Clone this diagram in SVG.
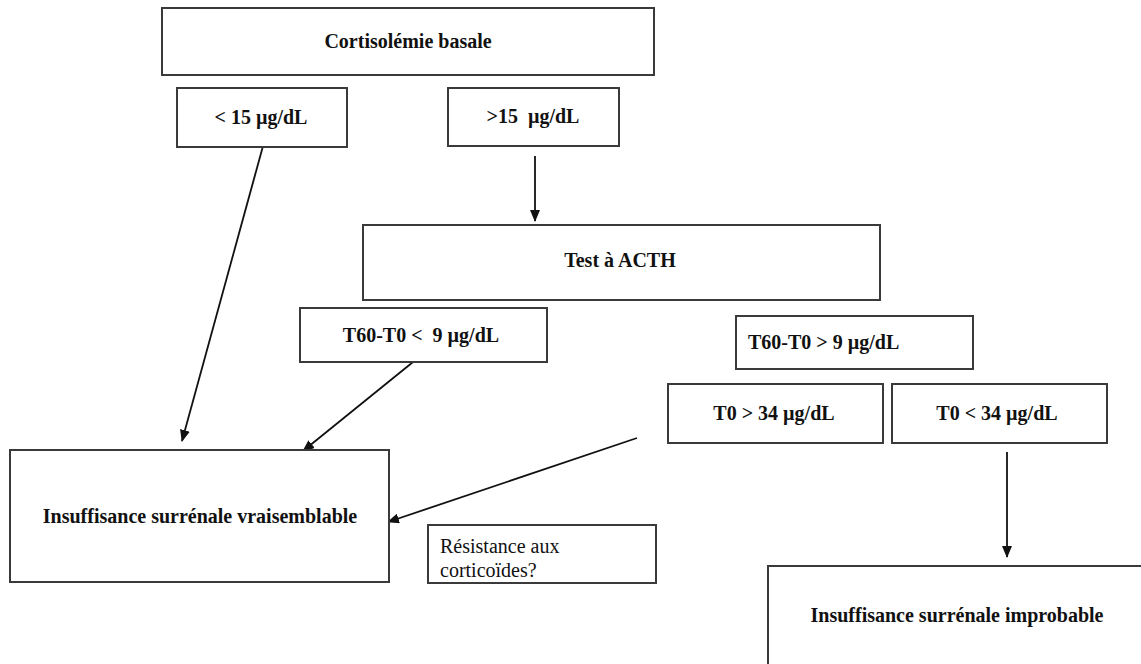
<svg xmlns="http://www.w3.org/2000/svg" width="1141" height="664" viewBox="0 0 1141 664">
<style>
.box{fill:#fff;stroke:#3a3a3a;stroke-width:2}
.t{font-family:"Liberation Serif","Times New Roman",serif;font-size:20px;font-weight:bold;fill:#111;text-anchor:middle}
.r{font-family:"Liberation Serif","Times New Roman",serif;font-size:20px;fill:#111}
.c{stroke:#111;stroke-width:1.8;fill:none;marker-end:url(#ah)}
</style>
<defs>
<marker id="ah" markerUnits="userSpaceOnUse" markerWidth="12" markerHeight="10" refX="11" refY="5" orient="auto">
<path d="M0,0 L12,5 L0,10 Z" fill="#111"/>
</marker>
</defs>
<rect width="1141" height="664" fill="#fff"/>
<g id="connectors">
<line class="c" x1="263" y1="146" x2="182" y2="441"/>
<line class="c" x1="535" y1="156" x2="535" y2="221"/>
<line class="c" x1="413" y1="362" x2="303" y2="451"/>
<line class="c" x1="637" y1="438" x2="388" y2="522"/>
<line class="c" x1="1007" y1="452" x2="1007" y2="557"/>
</g>
<g id="n-basale"><rect class="box" x="162" y="8" width="492" height="67"/><text class="t" x="408" y="48">Cortisolémie basale</text></g>
<g id="n-lt15"><rect class="box" x="177" y="88" width="170" height="59"/><text class="t" x="261" y="124" xml:space="preserve">&lt; 15 µg/dL</text></g>
<g id="n-gt15"><rect class="box" x="448" y="88" width="171" height="58"/><text class="t" x="533" y="123" xml:space="preserve">&gt;15  µg/dL</text></g>
<g id="n-acth"><rect class="box" x="363" y="225" width="517" height="75"/><text class="t" x="620" y="267">Test à ACTH</text></g>
<g id="n-lt9"><rect class="box" x="300" y="308" width="247" height="54"/><text class="t" x="421" y="342" xml:space="preserve">T60-T0 &lt;  9 µg/dL</text></g>
<g id="n-gt9"><rect class="box" x="736" y="316" width="237" height="53"/><text class="t" x="748" y="349" style="text-anchor:start">T60-T0 &gt; 9 µg/dL</text></g>
<g id="n-gt34"><rect class="box" x="668" y="384" width="215" height="59"/><text class="t" x="774" y="420">T0 &gt; 34 µg/dL</text></g>
<g id="n-lt34"><rect class="box" x="892" y="384" width="215" height="59"/><text class="t" x="997" y="420">T0 &lt; 34 µg/dL</text></g>
<g id="n-vrai"><rect class="box" x="10" y="450" width="379" height="132"/><text class="t" x="200" y="523">Insuffisance surrénale vraisemblable</text></g>
<g id="n-resist"><rect class="box" x="428" y="525" width="228" height="58"/><text class="r" x="440" y="553">Résistance aux</text><text class="r" x="440" y="577">corticoïdes?</text></g>
<g id="n-improb"><rect class="box" x="768" y="566" width="400" height="120"/><text class="t" x="957" y="622">Insuffisance surrénale improbable</text></g>
</svg>
